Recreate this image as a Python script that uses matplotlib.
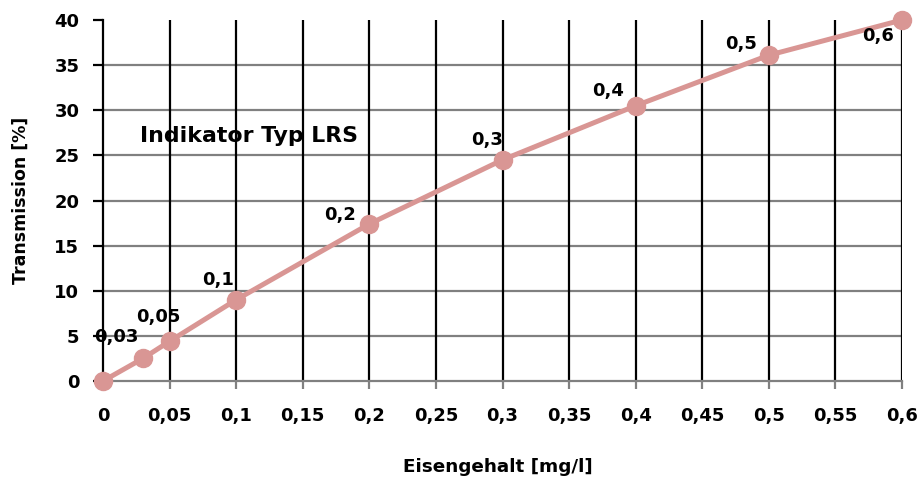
import matplotlib
matplotlib.use("Agg")
import matplotlib.pyplot as plt
from matplotlib.ticker import MultipleLocator, FuncFormatter

# Data
eisen = [0.0, 0.03, 0.05, 0.1, 0.2, 0.3, 0.4, 0.5, 0.6]
transmission = [0.0, 2.5, 4.4, 9.0, 17.4, 24.5, 30.5, 36.1, 40.0]
point_labels = ["", "0,03", "0,05", "0,1", "0,2", "0,3", "0,4", "0,5", "0,6"]
label_offsets = [(0, 0), (-27, 21), (-11, 24), (-18, 20), (-29, 9), (-15, 20), (-28, 15), (-28, 11), (-24, -16)]

title_text = "Indikator Typ LRS"
xlabel = "Eisengehalt [mg/l]"
ylabel = "Transmission [%]"

plt.rcParams['font.family'] = ['DejaVu Sans']

fig = plt.figure(figsize=(9.21, 4.83), dpi=100)
ax = fig.add_axes([103/921, 1-381/483, (902-103)/921, (381-20)/483])

ax.set_xlim(0, 0.6)
ax.set_ylim(0, 40)
ax.xaxis.set_major_locator(MultipleLocator(0.05))
ax.yaxis.set_major_locator(MultipleLocator(5))

fmt_x = FuncFormatter(lambda v, p: ("%g" % round(v, 2)).replace(".", ","))
ax.xaxis.set_major_formatter(fmt_x)
ax.yaxis.set_major_formatter(FuncFormatter(lambda v, p: "%d" % v))

# grid
for yv in range(5, 40, 5):
    ax.axhline(yv, color="#808080", lw=1.6, zorder=1)
for xv in [0.05 * i for i in range(1, 13)]:
    ax.axvline(xv, color="black", lw=1.6, zorder=1)

for s in ["top", "right"]:
    ax.spines[s].set_visible(False)
ax.spines["left"].set_color("black")
ax.spines["left"].set_linewidth(1.6)
ax.spines["bottom"].set_color("#808080")
ax.spines["bottom"].set_linewidth(1.6)

ax.tick_params(axis="y", length=7, width=1.6, color="black", labelsize=13, pad=10)
ax.tick_params(axis="x", length=6, width=1.6, color="#808080", labelsize=13, pad=13)
for lab in ax.get_xticklabels() + ax.get_yticklabels():
    lab.set_fontweight("bold")
fig.canvas.draw()
yt = ax.yaxis.get_major_ticks()
yt[-1].tick1line.set_visible(False)

ax.plot(eisen, transmission, color="#D99694", lw=3.6, marker="o", markersize=13,
        markerfacecolor="#D99694", markeredgecolor="#D99694", zorder=3, clip_on=False)

for x, y, lab, off in zip(eisen, transmission, point_labels, label_offsets):
    if lab:
        ax.annotate(lab, (x, y), xytext=off, textcoords="offset pixels",
                    ha="center", va="center", fontsize=13, fontweight="bold", zorder=4)

ax.text(0.028, 27.2, title_text, fontsize=15.8, fontweight="bold", ha="left", va="center")

fig.text(498/921, 1-467/483, xlabel, fontsize=13.2, fontweight="bold", ha="center", va="center")
fig.text(21/921, 1-200/483, ylabel, fontsize=12.5, fontweight="bold", ha="center", va="center", rotation=90)

fig.savefig("out.png", dpi=100)
